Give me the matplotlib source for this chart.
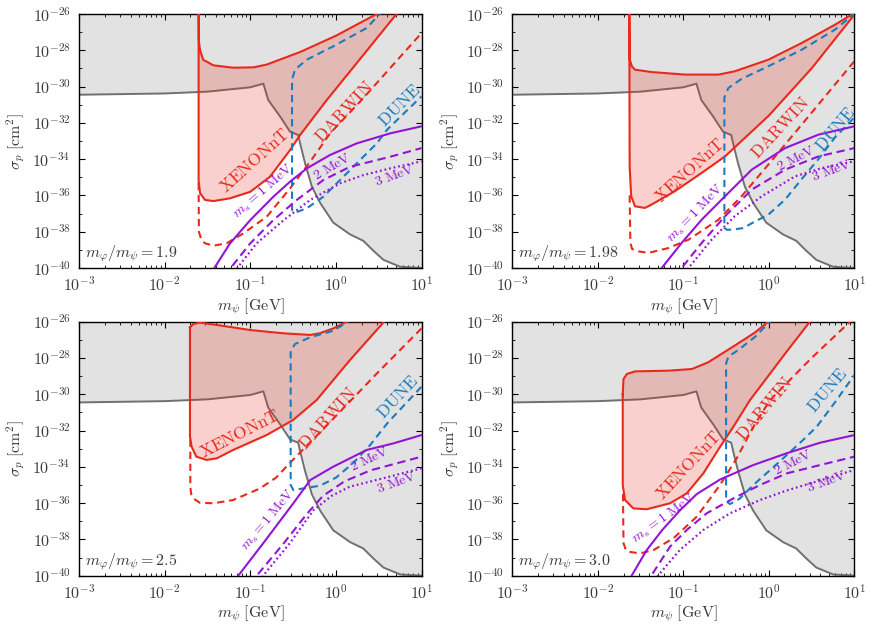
"""
Direct detection reach for four mass ratios m_phi/m_psi
"""

### Import modules
import numpy as np
import matplotlib
matplotlib.use('Agg')
import matplotlib.pyplot as plt
from matplotlib import ticker

### Panel labels
ratios = ['1.9', '1.98', '2.5', '3.0']

### Existing exclusion (same in every panel), log10 values
gray_logm = [-3.0, -2.0, -1.5, -1.0, -0.847, -0.79, -0.65, -0.535, -0.44, -0.418,
             -0.36, -0.28, -0.18, -0.03, 0.166, 0.32, 0.438, 0.555, 0.75, 1.0]
gray_logs = [-30.45, -30.38, -30.28, -30.04, -29.84, -30.74, -31.66, -32.49, -32.67, -33.13,
             -34.23, -35.52, -36.44, -37.5, -38.15, -38.5, -39.05, -39.55, -39.93, -40.0]

### XENONnT closed contours
xenon_logm = [
    [-1.603, -1.600, -1.587, -1.55, -1.43, -1.2, -0.96, -0.81, -0.42, 0.0, 0.476, 0.55,
     0.74, 0.708, -0.106, -0.418, -0.535, -0.77, -1.0, -1.236, -1.43, -1.528, -1.586, -1.603, -1.603],
    [-1.632, -1.628, -1.60, -1.565, -1.37, -0.98, -0.59, -0.40, -0.006, 0.384, 0.774, 1.05,
     1.05, 1.0, 0.5, 0.0, -0.513, -0.786, -1.1, -1.37, -1.45, -1.565, -1.61, -1.628, -1.632],
    [-1.704, -1.665, -1.587, -1.39, -1.0, -0.614, -0.3, -0.19, -0.03, 0.126, 0.2,
     0.6, 0.554, 0.165, -0.225, -0.5, -0.81, -1.2, -1.39, -1.51, -1.63, -1.685, -1.704, -1.704],
    [-1.709, -1.70, -1.66, -1.565, -1.175, -0.9, -0.71, -0.4, -0.16, 0.0, 0.05,
     0.52, 0.48, 0.2, 0.0, -0.22, -0.415, -0.571, -0.766, -0.96, -1.156, -1.43, -1.585, -1.682, -1.709, -1.709],
]
xenon_logs = [
    [-25.5, -27.5, -27.97, -28.52, -28.83, -28.96, -28.94, -28.79, -28.1, -27.2, -26.0, -25.8,
     -25.8, -26.0, -30.74, -32.67, -33.5, -34.97, -35.8, -36.16, -36.31, -36.25, -35.88, -35.2, -25.5],
    [-25.5, -28.5, -28.9, -29.07, -29.2, -29.34, -29.34, -29.16, -28.52, -27.6, -26.59, -25.8,
     -25.7, -26.04, -29.0, -31.6, -33.85, -34.76, -35.77, -36.5, -36.69, -36.6, -36.05, -34.4, -25.5],
    [-26.31, -26.13, -26.05, -26.18, -26.46, -26.64, -26.73, -26.64, -26.37, -26.0, -25.8,
     -25.8, -26.05, -28.11, -30.32, -31.42, -32.25, -33.07, -33.53, -33.62, -33.44, -32.89, -32.34, -26.31],
    [-30.0, -29.16, -28.88, -28.74, -28.7, -28.61, -28.24, -27.32, -26.59, -25.96, -25.8,
     -25.8, -26.0, -27.7, -28.95, -30.32, -31.79, -32.9, -34.36, -35.46, -36.01, -36.34, -36.29, -35.83, -35.0, -30.0],
]

### DARWIN (visible part, dashed)
darwin_logm = [
    [-1.603, -1.60, -1.57, -1.528, -1.43, -1.275, -1.08, -0.807, -0.535, -0.3, -0.068, 0.3, 1.0],
    [-1.628, -1.62, -1.60, -1.526, -1.41, -1.175, -0.94, -0.59, -0.32, -0.006, 0.384, 1.0],
    [-1.70, -1.70, -1.69, -1.665, -1.59, -1.43, -1.2, -0.89, -0.7, -0.54, 0.0, 0.5, 1.0],
    [-1.706, -1.70, -1.675, -1.643, -1.506, -1.35, -1.117, -0.843, -0.571, -0.376, -0.181, 0.014, 0.5, 0.95, 1.0],
]
darwin_logs = [
    [-35.3, -38.0, -38.45, -38.64, -38.77, -38.64, -38.09, -37.17, -35.61, -34.14, -32.58, -30.74, -27.05],
    [-36.0, -38.6, -38.95, -39.08, -39.17, -38.9, -38.44, -37.34, -36.05, -34.3, -32.1, -28.6],
    [-32.5, -35.1, -35.5, -35.74, -35.98, -36.01, -35.83, -35.2, -34.6, -33.8, -31.2, -28.75, -26.37],
    [-35.5, -38.2, -38.55, -38.68, -38.77, -38.59, -37.94, -36.75, -35.0, -33.53, -31.79, -30.32, -28.0, -26.0, -25.8],
]

### DUNE (dashed)
dune_logm = [
    [0.55, 0.36, -0.03, -0.34, -0.478, -0.512, -0.512, -0.477, -0.34, -0.146, 0.049, 0.244, 0.478, 0.595, 1.0],
    [1.02, 0.774, 0.384, -0.006, -0.32, -0.474, -0.52, -0.52, -0.49, -0.435, -0.3, -0.16, -0.006, 0.19, 0.384, 0.58, 0.774, 1.0],
    [0.2, 0.126, -0.03, -0.3, -0.477, -0.528, -0.528, -0.497, -0.42, -0.186, 0.0, 0.2, 0.4, 0.6, 1.0],
    [0.05, -0.16, -0.357, -0.474, -0.5, -0.5, -0.454, -0.337, -0.181, 0.014, 0.21, 0.4, 0.56, 0.78, 1.0],
]
dune_logs = [
    [-25.8, -26.77, -27.78, -28.52, -29.07, -29.62, -36.8, -36.95, -36.71, -36.07, -35.15, -34.23, -33.13, -32.39, -30.54],
    [-25.9, -26.86, -27.97, -28.88, -29.58, -30.08, -30.6, -37.8, -37.89, -37.89, -37.8, -37.43, -37.06, -36.23, -35.1, -34.0, -32.8, -31.7],
    [-25.8, -26.05, -26.5, -26.86, -27.23, -27.6, -35.0, -35.28, -35.22, -35.04, -34.6, -33.8, -32.8, -31.6, -29.58],
    [-25.8, -26.83, -27.56, -27.93, -28.3, -35.9, -36.05, -35.74, -35.0, -34.18, -33.35, -32.52, -31.79, -30.4, -28.94],
]

### Purple curves, m_s = 1, 2, 3 MeV
ms1_logm = [
    [-1.49, -1.41, -1.236, -1.0, -0.73, -0.535, -0.34, -0.068, 0.244, 0.633, 1.0],
    [-1.33, -1.253, -1.02, -0.786, -0.513, -0.2, 0.19, 0.58, 1.0],
    [-1.22, -1.14, -0.85, -0.497, -0.3, -0.03, 0.36, 0.67, 1.0],
    [-1.67, -1.6, -1.43, -1.25, -1.04, -0.843, -0.571, -0.181, 0.21, 0.6, 1.0],
]
ms1_logs = [
    [-40.5, -39.93, -38.64, -37.36, -36.07, -35.24, -34.51, -33.77, -33.13, -32.58, -32.19],
    [-40.5, -40.0, -38.62, -37.34, -36.05, -34.58, -33.39, -32.65, -32.19],
    [-40.5, -40.0, -38.22, -36.01, -34.73, -33.99, -33.07, -32.71, -32.25],
    [-40.5, -39.96, -38.6, -37.5, -36.4, -35.5, -34.7, -33.9, -33.25, -32.67, -32.25],
]
ms2_logm = [
    [-1.29, -1.217, -1.0, -0.73, -0.457, -0.146, 0.166, 0.633, 1.0],
    [-1.10, -1.02, -0.786, -0.513, -0.2, 0.19, 0.58, 1.0],
    [-1.0, -0.925, -0.61, -0.34, -0.15, 0.1, 0.4, 1.0],
    [-1.44, -1.37, -1.156, -0.96, -0.726, -0.415, -0.103, 0.21, 0.6, 1.0],
]
ms2_logs = [
    [-40.5, -39.93, -38.64, -37.36, -36.25, -35.15, -34.42, -33.87, -33.39],
    [-40.5, -40.0, -38.62, -37.15, -35.68, -34.58, -33.85, -33.39],
    [-40.5, -40.0, -38.22, -36.6, -35.6, -34.8, -34.2, -33.44],
    [-40.5, -39.96, -38.4, -37.48, -36.56, -35.74, -35.0, -34.36, -33.9, -33.44],
]
ms3_logm = [
    [-1.21, -1.14, -0.925, -0.61, -0.3, 0.05, 0.32, 0.633, 1.0],
    [-1.02, -0.94, -0.67, -0.4, -0.084, 0.306, 0.62, 1.0],
    [-0.93, -0.85, -0.54, -0.26, -0.05, 0.165, 0.554, 1.0],
    [-1.36, -1.29, -1.04, -0.766, -0.454, -0.103, 0.21, 0.6, 1.0],
]
ms3_logs = [
    [-40.5, -39.93, -38.64, -37.36, -36.25, -35.33, -34.88, -34.51, -34.12],
    [-40.5, -40.0, -38.44, -37.15, -36.05, -34.95, -34.49, -34.12],
    [-40.5, -40.0, -38.22, -36.38, -35.6, -35.09, -34.63, -34.08],
    [-40.5, -39.96, -38.58, -37.48, -36.56, -35.83, -35.3, -34.75, -34.17],
]

### Text labels: (log m, log sigma, rotation)
lab_xenon = [(-0.94, -34.1, 42), (-0.92, -34.65, 42), (-1.12, -32.2, 27), (-0.93, -33.9, 47)]
lab_darwin = [(0.1, -31.4, 47), (0.14, -32.3, 47), (-0.095, -31.35, 48), (-0.05, -30.8, 50)]
lab_dune = [(0.745, -31.05, 45), (0.785, -32.35, 50), (0.725, -30.15, 47), (0.695, -29.8, 50)]
lab_ms1 = [(-0.85, -35.8, 41), (-0.86, -37.0, 46), (-0.79, -36.95, 50), (-1.23, -36.85, 36)]
lab_ms2 = [(-0.04, -34.4, 30), (0.32, -33.95, 27), (0.39, -33.55, 25), (0.28, -33.75, 27)]
lab_ms3 = [(0.69, -34.9, 20), (0.73, -34.62, 20), (0.71, -34.86, 20), (0.68, -34.77, 20)]

###############################################################################
### Plot figure
plt.rcParams['mathtext.fontset'] = 'cm'
plt.rcParams['font.family'] = 'serif'
plt.rcParams['axes.unicode_minus'] = False

cred = '#e8291c'
cblue = '#1a7cbf'
cpurp = '#9313d6'
cgrayl = '#707070'
cgrayf = '#e2e2e2'
ctext = '#3a3a3a'

positions = [[0.0908, 0.5712, 0.3937, 0.4064],
             [0.5889, 0.5712, 0.3931, 0.4064],
             [0.0908, 0.0789, 0.3937, 0.4064],
             [0.5889, 0.0789, 0.3931, 0.4064]]

def p(a):
    return 10.0**np.asarray(a, dtype=float)

fig = plt.figure(figsize=(8.7, 6.25), dpi=100)

for i in range(4):
    ax = fig.add_axes(positions[i])
    ax.set_xscale('log')
    ax.set_yscale('log')

    ### gray excluded region
    ax.fill_between(p(gray_logm), p(gray_logs), 1e-26, color=cgrayf, lw=0, zorder=1)
    ax.plot(p(gray_logm), p(gray_logs), color=cgrayl, lw=1.4, zorder=2)

    ### XENONnT
    ax.fill(p(xenon_logm[i]), p(xenon_logs[i]), color=cred, alpha=0.22, lw=0, zorder=3)
    ax.plot(p(xenon_logm[i]), p(xenon_logs[i]), color=cred, lw=1.5, zorder=4)

    ### DARWIN and DUNE
    ax.plot(p(darwin_logm[i]), p(darwin_logs[i]), color=cred, lw=1.5,
            dashes=(3.5, 2.3), zorder=4)
    ax.plot(p(dune_logm[i]), p(dune_logs[i]), color=cblue, lw=1.5,
            dashes=(3.5, 2.3), zorder=5)

    ### m_s curves
    ax.plot(p(ms1_logm[i]), p(ms1_logs[i]), color=cpurp, lw=1.5, zorder=6)
    ax.plot(p(ms2_logm[i]), p(ms2_logs[i]), color=cpurp, lw=1.5,
            dashes=(4, 2.3), zorder=6)
    ax.plot(p(ms3_logm[i]), p(ms3_logs[i]), color=cpurp, lw=1.6,
            dashes=(0.8, 1.3), zorder=6)

    ### labels
    x, y, r = lab_xenon[i]
    ax.text(10**x, 10**y, r'$\mathrm{XENONnT}$', color=cred, fontsize=12.5,
            rotation=r, ha='center', va='center', zorder=7)
    x, y, r = lab_darwin[i]
    ax.text(10**x, 10**y, r'$\mathrm{DARWIN}$', color=cred, fontsize=12.5,
            rotation=r, ha='center', va='center', zorder=7)
    x, y, r = lab_dune[i]
    ax.text(10**x, 10**y, r'$\mathrm{DUNE}$', color=cblue, fontsize=12.5,
            rotation=r, ha='center', va='center', zorder=7)
    x, y, r = lab_ms1[i]
    ax.text(10**x, 10**y, r'$m_s = 1\ \mathrm{MeV}$', color=cpurp, fontsize=10,
            rotation=r, ha='center', va='center', zorder=7)
    x, y, r = lab_ms2[i]
    ax.text(10**x, 10**y, r'$2\ \mathrm{MeV}$', color=cpurp, fontsize=10,
            rotation=r, ha='center', va='center', zorder=7)
    x, y, r = lab_ms3[i]
    ax.text(10**x, 10**y, r'$3\ \mathrm{MeV}$', color=cpurp, fontsize=10,
            rotation=r, ha='center', va='center', zorder=7)

    ax.text(0.018, 0.055, r'$m_\varphi/m_\psi = %s$' % ratios[i], transform=ax.transAxes,
            fontsize=11.5, color=ctext, ha='left', va='center', zorder=8)

    ### axes
    ax.set_xlim(1e-3, 1e1)
    ax.set_ylim(1e-40, 1e-26)
    ax.xaxis.set_major_locator(ticker.FixedLocator(p(np.arange(-3, 2))))
    ax.yaxis.set_major_locator(ticker.FixedLocator(p(np.arange(-40, -25, 2))))
    ax.yaxis.set_minor_locator(ticker.FixedLocator(p(np.arange(-39, -26, 2))))
    ax.xaxis.set_minor_locator(ticker.LogLocator(base=10, subs=np.arange(2, 10), numticks=20))
    fmt = ticker.FuncFormatter(lambda v, pos: r'$10^{%d}$' % int(round(np.log10(v))))
    ax.xaxis.set_major_formatter(fmt)
    ax.yaxis.set_major_formatter(fmt)
    ax.xaxis.set_minor_formatter(ticker.NullFormatter())
    ax.yaxis.set_minor_formatter(ticker.NullFormatter())
    ax.tick_params(which='both', direction='in', top=True, right=True)
    ax.tick_params(which='major', length=4, width=0.8, labelsize=11.5, pad=6,
                   labelcolor=ctext)
    ax.tick_params(which='minor', length=2, width=0.6)
    for s in ax.spines.values():
        s.set_linewidth(1.0)
    ax.set_xlabel(r'$m_\psi\ [\mathrm{GeV}]$', fontsize=11.5, color=ctext, labelpad=1)
    ax.set_ylabel(r'$\sigma_p\ [\mathrm{cm}^2]$', fontsize=11.5, color=ctext, labelpad=3)

plt.savefig('out.png', dpi=100)
